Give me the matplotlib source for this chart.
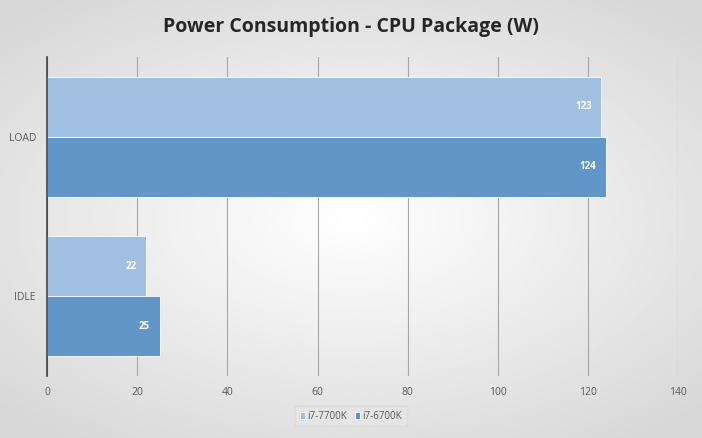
import numpy as np
import matplotlib
matplotlib.use('Agg')
from matplotlib import pyplot as plt

categories = ['IDLE', 'LOAD']
series_names = ['i7-7700K', 'i7-6700K']
i7_7700k = [22, 123]
i7_6700k = [25, 124]
x_ticks = [0, 20, 40, 60, 80, 100, 120, 140]

light = '#a1c0e1'
dark = '#6396c8'

plt.rcParams['font.family'] = ['Open Sans', 'DejaVu Sans']

fig = plt.figure(figsize=(7.02, 4.38), dpi=100)

# radial-ish grey background
bg = fig.add_axes([0, 0, 1, 1], zorder=-10)
yy, xx = np.mgrid[-1:1:200j, -1:1:300j]
r = np.sqrt((xx * 0.9) ** 2 + (yy * 1.0) ** 2)
bg.imshow(1 - 0.16 * np.clip(r, 0, 1.3) / 1.3, cmap='gray', vmin=0, vmax=1,
          aspect='auto', extent=[0, 1, 0, 1])
bg.axis('off')

ax = fig.add_axes([0.067, 0.1416, 0.899, 0.7284])
ax.set_facecolor('none')

y = np.arange(len(categories))
h = 0.375
b1 = ax.barh(y + h / 2, i7_7700k, height=h, color=light, edgecolor='white',
             linewidth=0.6, label=series_names[0], zorder=3)
b2 = ax.barh(y - h / 2, i7_6700k, height=h, color=dark, edgecolor='white',
             linewidth=0.6, label=series_names[1], zorder=3)

for bars in (b1, b2):
    for rect in bars:
        w = rect.get_width()
        ax.text(w - 2.2, rect.get_y() + rect.get_height() / 2, str(w),
                ha='right', va='center', color='white', fontsize=7,
                fontweight='bold', zorder=4)

ax.set_xlim(0, 140)
ax.set_ylim(-0.5, 1.5)
ax.set_xticks(x_ticks)
ax.set_yticks(y)
ax.set_yticklabels(categories)
ax.tick_params(axis='both', length=0, labelsize=7.5, labelcolor='#595959')
ax.tick_params(axis='x', pad=8)
ax.tick_params(axis='y', pad=8)
ax.grid(axis='x', color='#a6a6a6', linewidth=0.8, zorder=0)
for s in ['top', 'right', 'bottom']:
    ax.spines[s].set_visible(False)
ax.spines['left'].set_color('#404040')
ax.spines['left'].set_linewidth(1.2)
ax.spines['left'].set_zorder(5)

fig.text(0.5, 0.938, 'Power Consumption - CPU Package (W)', ha='center',
         va='center', fontsize=14, fontweight='bold', color='#262626')

leg = fig.legend(handles=[b1, b2], loc='center', bbox_to_anchor=(0.5, 0.05),
                 ncol=2, fontsize=7, frameon=True, handlelength=0.5,
                 handleheight=0.7, handletextpad=0.3, columnspacing=0.8,
                 borderpad=0.5)
leg.get_frame().set_facecolor('#e6e6e6')
leg.get_frame().set_edgecolor('#d9d9d9')
leg.get_frame().set_boxstyle('square', pad=0)
for t in leg.get_texts():
    t.set_color('#595959')

fig.savefig('out.png', dpi=100)
